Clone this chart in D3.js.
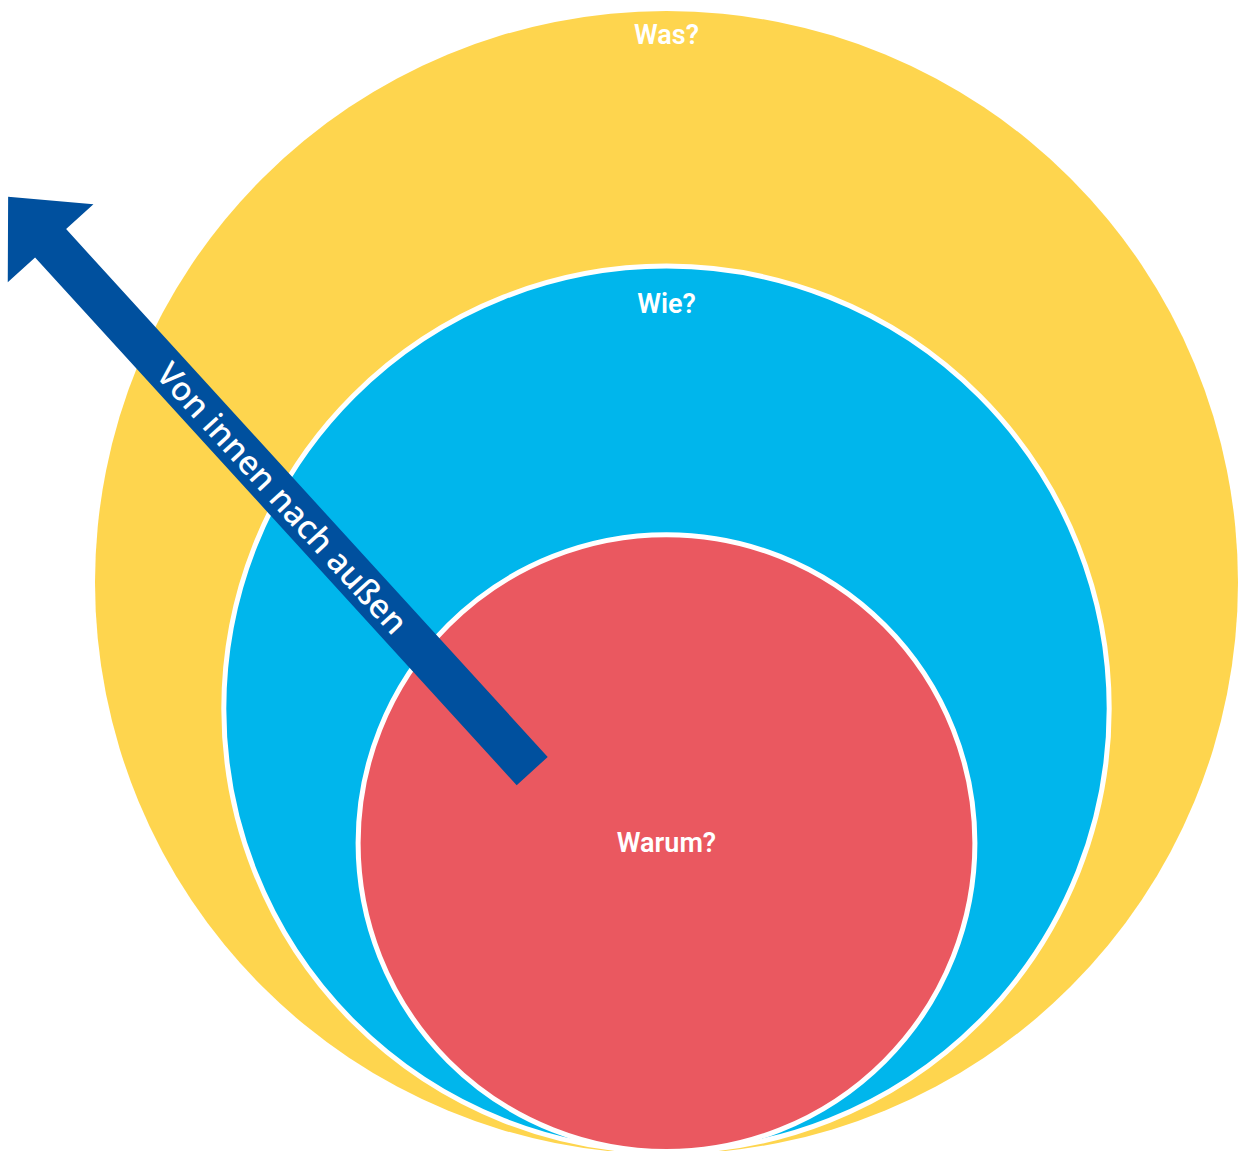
<!DOCTYPE html>
<html>
<head>
<meta charset="utf-8">
<script src="https://cdn.jsdelivr.net/npm/d3@7"></script>
<style>
  body { margin: 0; background: #fff; }
  .ring-label { font-family: Roboto, "Noto Sans", sans-serif; font-weight: 600; fill: #fff; }
  .arrow-label { font-family: "Noto Sans", "Open Sans", sans-serif; font-weight: 500; fill: #fff; }
</style>
</head>
<body>
<script>
// rings from outside to inside (golden circle)
var labels = ["Was?", "Wie?", "Warum?"];
var radii = [100, 77.9, 54.4];           // relative size, outer ring = 100
var colors = ["#fed54e", "#00b6ec", "#ea5860"];
var labelPos = ["top", "top", "center"];

// arrow, in the same units (x from ring centre, y up from the common base line)
var arrowFrom = [-23.5, 67.0];
var arrowTo = [-115.2, 167.5];
var arrowText = "Von innen nach außen";

var width = 1238, height = 1151;

var svg = d3.select("body").append("svg")
    .attr("width", width)
    .attr("height", height);

var x = d3.scaleLinear().domain([-100, 100]).range([95, 1238]);
var y = d3.scaleLinear().domain([0, 200]).range([1154, 11]);
var k = x(1) - x(0);   // px per unit
var labelOffset = [24, 40];   // px below the top of the ring

var rings = labels.map(function(l, i) {
    return {label: l, r: radii[i], color: colors[i], pos: labelPos[i], i: i};
});

svg.selectAll(".ring")
    .data(rings)
    .enter()
    .append("circle")
    .attr("class", "ring")
    .attr("cx", x(0))
    .attr("cy", d => y(d.r))
    .attr("r", d => d.i == 0 ? d.r * k : d.r * k - 2.5)
    .attr("fill", d => d.color)
    .attr("stroke", d => d.i == 0 ? "none" : "#fff")
    .attr("stroke-width", 5);

// arrow
var p0 = [x(arrowFrom[0]), y(arrowFrom[1])];
var p1 = [x(arrowTo[0]), y(arrowTo[1])];
var len = Math.hypot(p1[0] - p0[0], p1[1] - p0[1]);
var angle = Math.atan2(p1[1] - p0[1], p1[0] - p0[0]) * 180 / Math.PI;
var shaftW = 42, headW = 116, headL = 63;

var arrow = svg.append("g")
    .attr("transform", "translate(" + p0[0] + "," + p0[1] + ") rotate(" + angle + ")");

var pts = [
    [0, -shaftW / 2], [len - headL, -shaftW / 2], [len - headL, -headW / 2],
    [len, 0],
    [len - headL, headW / 2], [len - headL, shaftW / 2], [0, shaftW / 2]
];
arrow.append("path")
    .attr("d", d3.line()(pts) + "Z")
    .attr("fill", "#00509e");

arrow.append("text")
    .attr("class", "arrow-label")
    .attr("transform", "translate(" + (len * 0.476) + ",0) rotate(180)")
    .attr("text-anchor", "middle")
    .attr("dominant-baseline", "central")
    .style("font-size", "33px")
    .text(arrowText);

svg.selectAll(".ring-label")
    .data(rings)
    .enter()
    .append("text")
    .attr("class", "ring-label")
    .attr("x", x(0))
    .attr("y", d => d.pos == "top" ? y(2 * d.r) + labelOffset[d.i] : y(d.r))
    .attr("text-anchor", "middle")
    .attr("dominant-baseline", "central")
    .style("font-size", "27px")
    .text(d => d.label);
</script>
</body>
</html>
